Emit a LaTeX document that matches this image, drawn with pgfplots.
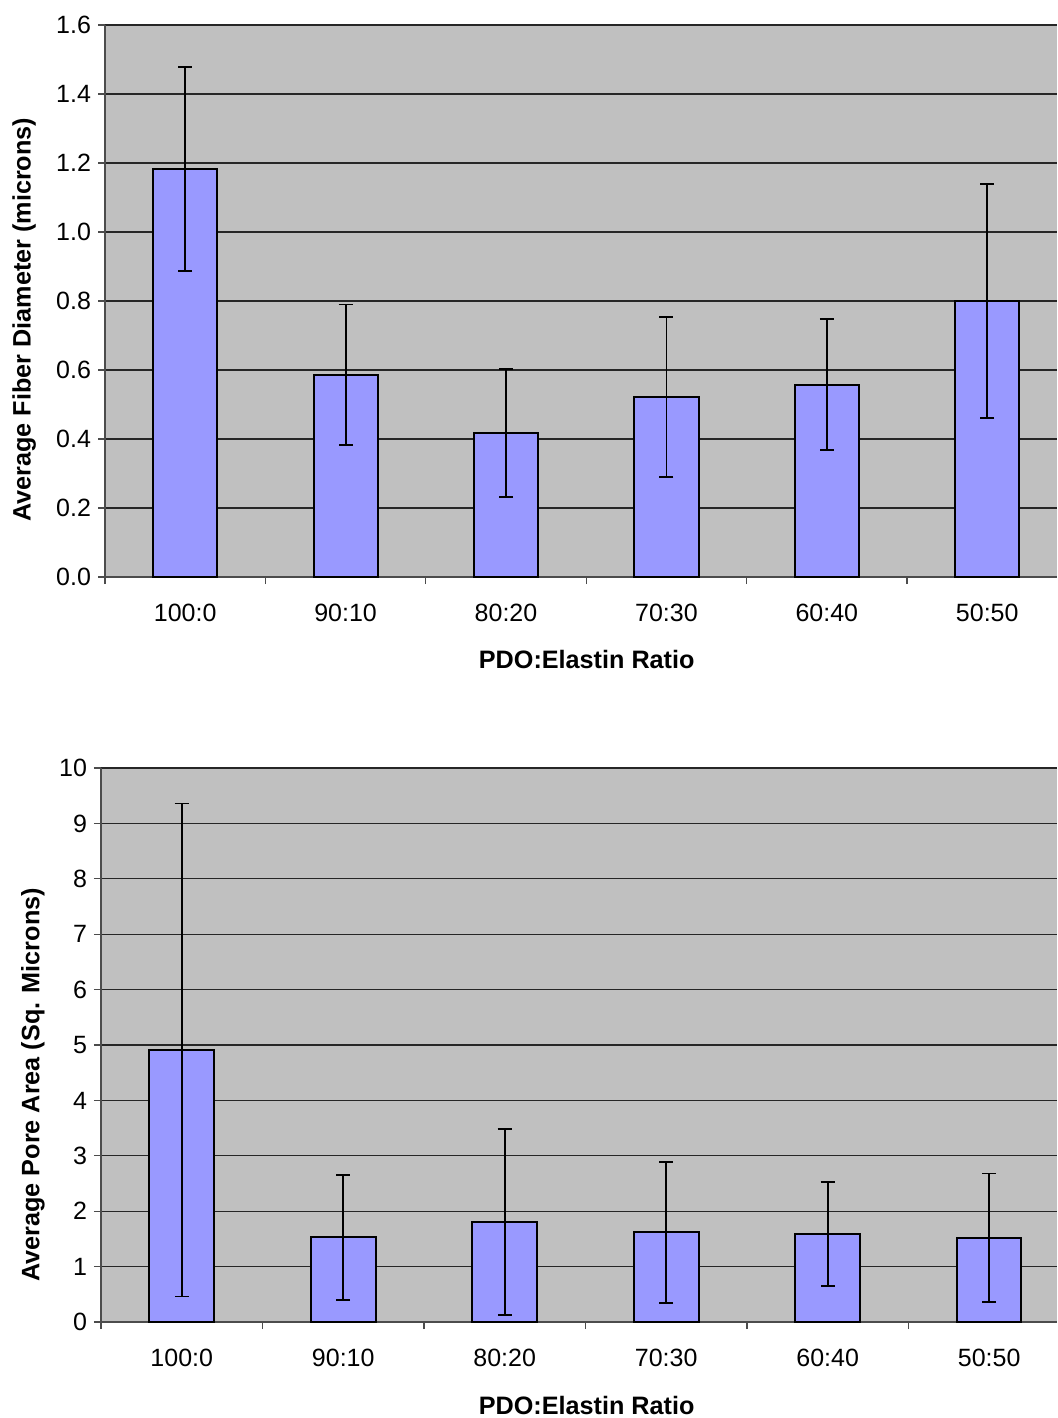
\documentclass[border=0pt]{standalone}
\usepackage{pgfplots}
\pgfplotsset{compat=1.18}
\usepackage{pgfplotstable}
\usepackage{fontspec}
\setmainfont{Liberation Sans}
\definecolor{plotgray}{HTML}{C0C0C0}
\definecolor{barblue}{HTML}{9999FF}

\pgfplotstableread{
x y err
0 1.183 0.296
1 0.586 0.204
2 0.417 0.186
3 0.522 0.232
4 0.557 0.190
5 0.800 0.340
}\fiberdata

\pgfplotstableread{
x y err
0 4.91 4.45
1 1.53 1.13
2 1.81 1.68
3 1.62 1.27
4 1.59 0.94
5 1.52 1.16
}\poredata

\pgfplotsset{
  mystyle/.style={
    scale only axis,
    axis background/.style={fill=plotgray},
    axis x line*=bottom,
    axis y line*=left,
    axis line style={-, draw=black!70, line width=0.7pt},
    xmin=-0.5,
    xtick={0,1,2,3,4,5},
    xticklabels={100:0,90:10,80:20,70:30,60:40,50:50},
    major x tick style={draw=none},
    minor xtick={-0.5,0.5,1.5,2.5,3.5,4.5},
    minor tick length=3.5pt,
    minor x tick style={draw=black!70, line width=0.6pt},
    major tick length=3.5pt,
    tick align=outside,
    ytick style={draw=black!70, line width=0.6pt},
    ymajorgrids,
    major grid style={draw=black!85, line width=0.6pt},
    tick label style={font=\fontsize{12.5pt}{14pt}\selectfont},
    xticklabel style={yshift=-6.5pt},
    label style={font=\bfseries\fontsize{12.6pt}{14pt}\selectfont},
    /pgf/number format/assume math mode=true,
    clip=false,
  },
  mybar/.style={
    ybar, bar width=0.4, fill=barblue, draw=black, line width=1pt,
    error bars/.cd, y dir=both, y explicit,
    error bar style={black, line width=0.9pt},
    error mark options={rotate=90, black, mark size=3.5pt, line width=0.9pt},
  },
}

\begin{document}
\begin{tikzpicture}
\useasboundingbox (0,0) rectangle (528.5pt,-709pt);

\begin{axis}[
  mystyle,
  at={(52.5pt,-288.5pt)}, anchor=south west,
  width=476pt, height=276pt,
  xmax=5.435,
  ymin=0, ymax=1.6,
  ytick={0,0.2,...,1.6},
  yticklabel style={/pgf/number format/.cd, fixed, fixed zerofill, precision=1},
  xlabel={PDO:Elastin Ratio},
  ylabel={Average Fiber Diameter (microns)},
  xlabel style={at={(axis description cs:0.506,-0.150)}, anchor=center},
  ylabel style={at={(axis description cs:-0.085,0.466)}, anchor=center, rotate=0},
]
\addplot[mybar] table[x=x, y=y, y error=err] {\fiberdata};
\end{axis}

\begin{axis}[
  mystyle,
  at={(50.5pt,-661pt)}, anchor=south west,
  width=478pt, height=277pt,
  xmax=5.42,
  ymin=0, ymax=10,
  ytick={0,1,...,10},
  xlabel={PDO:Elastin Ratio},
  ylabel={Average Pore Area (Sq. Microns)},
  xlabel style={at={(axis description cs:0.508,-0.150)}, anchor=center},
  ylabel style={at={(axis description cs:-0.0711,0.428)}, anchor=center},
]
\addplot[mybar] table[x=x, y=y, y error=err] {\poredata};
\end{axis}
\end{tikzpicture}
\end{document}
